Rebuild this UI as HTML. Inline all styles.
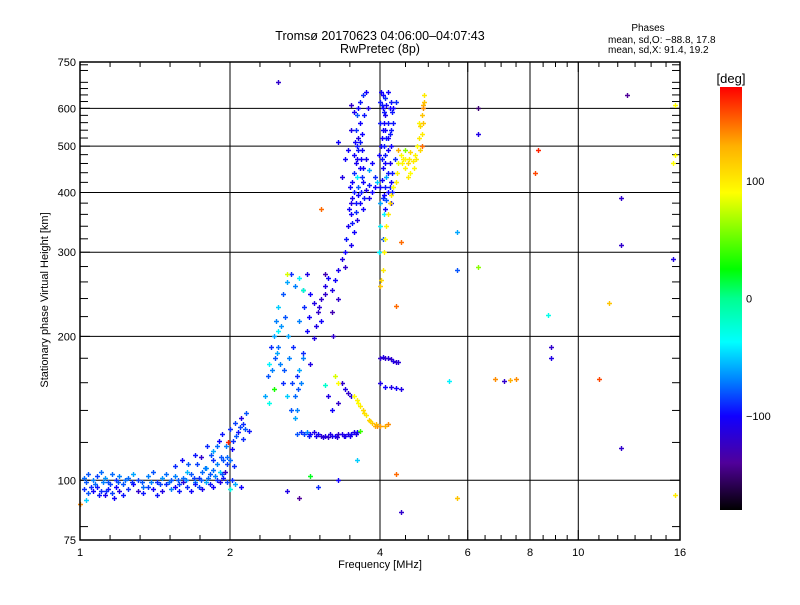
<!DOCTYPE html>
<html><head><meta charset="utf-8"><style>
body{margin:0;background:#fff;}
svg text{font-family:"Liberation Sans",sans-serif;fill:#000;}
</style></head><body>
<svg id="chart" width="800" height="600" xmlns="http://www.w3.org/2000/svg">
<rect width="800" height="600" fill="#fff"/>
<text x="380" y="40" font-size="12.5" text-anchor="middle">Tromsø 20170623 04:06:00–04:07:43</text>
<text x="380" y="53" font-size="12.5" text-anchor="middle">RwPretec (8p)</text>
<text x="648" y="31" font-size="10" text-anchor="middle">Phases</text>
<text x="608" y="43" font-size="10">mean, sd,O: −88.8, 17.8</text>
<text x="608" y="53" font-size="10">mean, sd,X:  91.4, 19.2</text>
<text x="380" y="568" font-size="11" text-anchor="middle">Frequency [MHz]</text>
<text transform="translate(48,300) rotate(-90)" font-size="11" text-anchor="middle">Stationary phase Virtual Height [km]</text>
<g id="grid"></g>
<g id="ticks"></g>
<g id="marks"></g>
<rect x="80" y="62" width="600" height="478" fill="none" stroke="#000" stroke-width="1.5"/>
<defs><linearGradient id="cmap" x1="0" y1="1" x2="0" y2="0"></linearGradient></defs>
<rect x="720" y="87" width="22" height="423" fill="url(#cmap)"/>
<text x="731" y="83" font-size="13" text-anchor="middle">[deg]</text>
<g id="cbticks"></g>
</svg>
<script>
const xTickLabels=[1,2,4,6,8,10,16];
const yTickLabels=[75,100,200,300,400,500,600,750];
const yGridValues=[100,200,300,400,500,600];
const xGridValues=[2,4,6,8,10];
const xMinorTicks=[1.149,1.32,1.516,1.741,2.297,2.639,3.03,3.48,4.5,5,5.5,6.5,7,7.5,8.5,9,9.5,11,12,13,14,15];
const cbLabels=[100,0,-100];
const cmapStops=[[-180,'#000000'],[-140,'#50009a'],[-100,'#1000ff'],[-70,'#0080ff'],[-37,'#00ffff'],[0,'#00ff90'],[25,'#00ff00'],[90,'#ffff00'],[130,'#ffb000'],[180,'#ff0000']];

const lowBand=[[1.02,101,-75],[1.04,103,-80],[1.06,100,-70],[1.08,102,-85],[1.10,104,-75],[1.12,101,-65],[1.14,99,-80],[1.16,103,-75],[1.18,100,-90],[1.20,102,-70],[1.22,98,-80],[1.25,101,-75],[1.28,103,-60],[1.31,100,-85],[1.34,97,-75],[1.37,102,-70],[1.40,104,-80],[1.43,99,-90],[1.46,101,-65],[1.49,103,-75],[1.52,100,-80],[1.55,102,-70],[1.58,98,-85],[1.61,101,-75],[1.64,104,-55],[1.67,103,-80],[1.70,99,-70],[1.73,101,-90],[1.76,104,-75],[1.79,106,-65],[1.82,103,-80],[1.85,105,-75],[1.88,108,-70],[1.91,104,-50],[1.94,110,-80],[1.97,112,-75],
[1.02,96,-90],[1.04,94,-80],[1.06,95,-100],[1.08,97,-95],[1.10,95,-90],[1.12,93,-105],[1.14,96,-95],[1.16,94,-85],[1.18,97,-100],[1.20,95,-110],[1.22,93,-95],[1.25,96,-90],[1.28,98,-100],[1.31,95,-120],[1.34,94,-95],[1.37,97,-85],[1.40,96,-100],[1.43,93,-95],[1.46,95,-110],[1.49,98,-90],[1.52,96,-70],[1.55,97,-100],[1.58,95,-95],[1.61,99,-115],[1.64,97,-90],[1.67,95,-100],[1.70,98,-95],[1.73,97,-85],[1.76,96,-105],[1.79,99,-60],[1.82,98,-95],[1.85,97,-100],[1.88,100,-90],[1.91,99,-110],[1.94,101,-95],[1.97,99,-85],[1.0,89,140],[1.03,91,-50],
[1.03,99,-80],[1.07,98,-75],[1.11,99,-70],[1.15,98,-85],[1.19,99,-80],[1.23,100,-75],[1.27,99,-90],[1.33,99,-80],[1.39,99,-70],[1.45,98,-85],[1.51,99,-75],[1.57,100,-80],[1.63,100,-70],[1.69,101,-85],[1.75,100,-80],[1.81,101,-75],[1.87,102,-70],[1.93,103,-80],[1.05,97,-90],[1.09,93,-95],[1.13,95,-90],[1.17,92,-100]];
const rise=[[1.55,107,-90],[1.6,110,-100],[1.65,108,-80],[1.7,113,-95],[1.75,112,-120],[1.8,118,-90],[1.85,115,-60],[1.9,121,-100],[1.93,125,-95],[1.96,118,-70],[2.0,128,-90],[2.02,116,-100],[2.05,132,-85],[2.08,126,-95],[2.1,135,-110],[2.12,122,-90],[2.15,138,-80],[2.18,127,-95],[2.02,100,-90],[2.05,98,-60],[2.1,97,-100],[1.95,104,-120],[1.85,110,-90],[1.78,106,-70],[2.0,96,-30],[1.98,120,170],
[1.92,112,-80],[1.88,118,-75],[1.97,108,-85],[2.03,121,-90],[2.06,124,-80],[2.09,129,-85],[2.12,131,-90],[2.14,128,-80],[2.0,110,-75],[2.04,107,-90],[1.83,113,-80],[1.72,108,-85]];
const midRise=[[2.35,150,-60],[2.38,165,-80],[2.4,175,-40],[2.42,190,-90],[2.45,200,-60],[2.47,215,-70],[2.5,230,-50],[2.55,245,-80],[2.6,260,-60],[2.65,270,-90],[2.7,255,-70],[2.75,265,-40],[2.8,250,-80],[2.85,270,-110],[2.9,245,-100],[2.95,235,-110],[3.0,225,-120],[3.05,215,-100],[2.48,185,-60],[2.52,175,-70],[2.55,160,-90],[2.6,150,-50],[2.65,140,-80],[2.7,135,-60],[2.72,165,-90],[2.8,180,-70],[2.9,175,-110],[2.5,205,-40],[2.58,220,-80],[2.62,200,-60],[2.68,190,-90],[2.75,215,-70],[2.85,205,-100],[2.95,198,-110],[3.05,240,-120],[3.1,255,-110],[3.15,265,-100],[3.1,245,-120],[2.45,155,30],[2.4,145,-30],[2.6,270,80],
[2.43,170,-70],[2.46,180,-80],[2.5,190,-75],[2.53,210,-65],[2.57,170,-80],[2.63,180,-70],[2.66,160,-85],[2.7,150,-75],[2.82,230,-90],[2.88,220,-100],[2.98,210,-110],[3.02,230,-115]];
const fBranch=[[3.2,250,-110],[3.25,262,-100],[3.3,275,-105],[3.35,290,-110],[3.4,300,-100],[3.42,320,-95],[3.45,340,-105],[3.5,360,-100],[3.5,380,-110],[3.55,400,-95],[3.52,420,-100],[3.55,440,-90],[3.58,460,-105],[3.55,480,-100],[3.6,500,-95],[3.62,520,-110],[3.58,540,-90],[3.65,560,-100],[3.6,580,-80],[3.62,600,-100],[3.65,620,-95],[3.7,640,-90],[3.75,650,-100],[3.48,410,-100],[3.62,410,-80],[3.7,420,-100],[3.75,405,-110],[3.8,415,-95],[3.85,400,-100],[3.9,430,-90],[3.7,450,-100],[3.75,470,-105],[3.8,445,-60],[3.65,380,-100],[3.72,390,-95],[3.85,460,-100],[3.6,350,-110],[3.55,330,-100],[3.4,280,-120],[3.5,310,-105],[3.3,240,-120],[3.2,225,-130],[3.22,200,-120],[3.1,270,-130],[3.35,430,-110],[3.4,470,-100],[3.45,490,-100],[3.5,540,-110],[3.55,590,-105],[3.5,610,-120],[3.3,510,-100],[3.68,530,-100],[3.72,580,-95],[3.6,430,-40],[3.66,470,-100],[3.78,600,-110],
[3.58,380,-95],[3.62,395,-100],[3.66,400,-95],[3.68,430,-90],[3.64,450,-100],[3.6,470,-105],[3.62,490,-95],[3.56,510,-100],[3.64,510,-95],[3.68,490,-100],[3.52,390,-105],[3.46,370,-100],[3.52,345,-95],[3.58,365,-90],[3.7,370,-100],[3.8,390,-105],[3.9,410,-100]];
const fColumn=[[4.0,620,-95],[4.05,640,-100],[4.1,630,-90],[4.15,650,-100],[4.2,620,-95],[4.05,600,-100],[4.1,580,-105],[4.15,560,-95],[4.05,540,-100],[4.12,520,-90],[4.2,500,-100],[4.1,480,-95],[4.18,460,-105],[4.05,450,-100],[4.12,430,-60],[4.2,420,-100],[4.1,410,-95],[4.15,400,-100],[4.05,390,-90],[4.0,380,-60],[4.2,380,-100],[4.25,560,-95],[4.25,600,-100],[4.28,470,-90],[3.95,420,-50],[3.98,480,-100],[4.0,560,-95],[4.02,500,-100],[4.08,360,-40],[4.0,340,-40],[3.98,300,-40],[4.05,320,-80],[4.1,370,-100],[4.22,440,-95],[4.15,520,-100],[4.3,620,-90],[4.02,650,-100],[4.08,590,-95],[4.18,600,-100],[4.1,540,-100],[4.2,540,-95],[4.0,410,-100],
[4.03,610,-95],[4.12,610,-100],[4.22,590,-95],[4.08,560,-100],[4.18,530,-95],[4.03,520,-100],[4.08,500,-95],[4.15,490,-100],[4.03,470,-95],[4.1,460,-100],[4.15,440,-95],[4.03,425,-100],[4.18,410,-95],[4.08,395,-100],[4.12,385,-80],[4.22,400,-95]];
const xTrace=[[4.0,255,120],[4.02,262,110],[4.05,275,100],[4.08,300,95],[4.1,320,90],[4.12,340,95],[4.15,360,100],[4.18,380,110],[4.2,395,100],[4.25,410,90],[4.3,420,100],[4.32,440,95],[4.35,460,85],[4.4,480,90],[4.45,470,100],[4.5,450,95],[4.55,460,110],[4.6,440,90],[4.65,465,100],[4.7,480,95],[4.75,500,90],[4.8,520,100],[4.82,550,110],[4.85,580,120],[4.87,610,130],[4.9,640,100],[4.35,490,130],[4.5,490,60],[4.55,430,100],[4.6,485,110],[4.78,560,95],[4.85,500,150],[4.88,600,140],[4.9,620,120],
[4.42,460,95],[4.48,470,90],[4.58,470,100],[4.68,450,95],[4.72,470,100],[4.82,490,110],[4.86,530,100],[4.88,560,120]];
const eLayer=[[2.72,125,-80],[2.78,126,-90],[2.85,126,-70],[2.9,125,-100],[2.95,126,-110],[3.0,125,-100],[3.05,124,-120],[3.1,124,-110],[3.15,123,-120],[3.2,124,-110],[3.25,124,-100],[3.3,125,-120],[3.35,125,-110],[3.4,124,-100],[3.45,125,-110],[3.5,125,-100],[3.55,126,-110],[3.6,126,-100],[3.65,127,40],[2.72,140,-70],[2.74,155,-80],[2.75,170,-60],[2.8,185,-90],[2.78,160,-70],[3.4,155,-110],[3.45,152,-120],[3.5,150,-110],[3.3,145,-120],[3.35,160,-120],[3.15,150,-110],[3.2,140,-100],
[2.82,125,-85],[2.88,124,-95],[2.98,124,-105],[3.08,123,-115],[3.18,125,-110],[3.28,123,-115],[3.38,124,-110],[3.48,124,-105],[3.58,125,-110]];
const eTrace=[[3.55,150,90],[3.6,147,95],[3.65,143,100],[3.7,140,110],[3.75,137,100],[3.8,134,115],[3.85,132,120],[3.9,130,130],[3.95,130,140],[4.0,130,135],[4.1,130,130],[4.15,131,140],[3.62,145,90],[3.72,138,105],[3.82,133,110],[3.92,131,125]];
const esLayer=[[4.0,180,-120],[4.05,181,-110],[4.1,180,-120],[4.15,180,-115],[4.2,179,-120],[4.25,178,-110],[4.3,177,-120],[4.35,177,-115],[4.0,160,-110],[4.1,157,-100],[4.2,157,-110],[4.3,156,-100],[4.4,155,-110]];
const scatter=[[2.5,680,-120],[6.3,600,-150],[6.3,530,-110],[5.7,330,-60],[5.7,275,-80],[6.3,280,60],[8.3,490,170],[8.2,440,160],[8.7,222,-30],[8.8,190,-120],[8.8,180,-110],[11,163,160],[12.5,640,-140],[12.2,390,-120],[12.2,310,-120],[11.5,235,120],[12.2,117,-120],[15.6,610,90],[15.6,480,90],[15.5,460,90],[15.5,290,-110],[15.6,93,100],[6.8,163,140],[7.3,162,130],[7.5,163,140],[7.1,161,-120],[5.7,92,120],[5.5,161,-40],[4.4,86,-120],[4.3,103,150],[4.4,315,150],[4.3,232,150],[3.05,370,150],[2.8,250,-20],[3.3,100,-100],[2.6,95,-110],[3.0,97,-90],[2.9,102,20],[2.75,92,-140],[3.6,110,-50],[3.25,165,80],[3.3,160,90],[3.1,158,-20]];
const groups=[lowBand,rise,midRise,fBranch,fColumn,xTrace,eLayer,eTrace,esLayer,scatter];

const X0=80,X1=680,Y0=540,Y1=62;
function xs(f){return X0+(X1-X0)*Math.log2(f)/4;}
function ys(h){return Y0-(Y0-Y1)*Math.log10(h/75);}
function hex(c){return [1,3,5].map(i=>parseInt(c.substr(i,2),16));}
function color(p){
  for(let i=1;i<cmapStops.length;i++){
    if(p<=cmapStops[i][0]){
      const a=cmapStops[i-1],b=cmapStops[i],t=(p-a[0])/(b[0]-a[0]);
      const ca=hex(a[1]),cb=hex(b[1]);
      return 'rgb('+ca.map((v,k)=>Math.round(v+(cb[k]-v)*t)).join(',')+')';
    }
  }
  return cmapStops[cmapStops.length-1][1];
}
const NS='http://www.w3.org/2000/svg';
function mk(tag,attrs,parent){const e=document.createElementNS(NS,tag);for(const k in attrs)e.setAttribute(k,attrs[k]);parent.appendChild(e);return e;}
const grid=document.getElementById('grid'),ticks=document.getElementById('ticks'),marks=document.getElementById('marks');
yGridValues.forEach(v=>{const l=mk('line',{x1:X0,x2:X1,y1:ys(v),y2:ys(v),stroke:'#000','stroke-width':1},grid);

});
xGridValues.forEach(v=>{const l=mk('line',{x1:xs(v),x2:xs(v),y1:Y0,y2:Y1,stroke:'#000','stroke-width':1},grid);

});
xTickLabels.forEach(v=>{const t=mk('text',{x:xs(v),y:556,'font-size':11,'text-anchor':'middle'},ticks);t.textContent=v;


mk('line',{x1:xs(v),x2:xs(v),y1:Y0,y2:Y0-10,stroke:'#000'},ticks);mk('line',{x1:xs(v),x2:xs(v),y1:Y1,y2:Y1+10,stroke:'#000'},ticks);});
xMinorTicks.forEach(v=>{mk('line',{x1:xs(v),x2:xs(v),y1:Y0,y2:Y0-5,stroke:'#000'},ticks);mk('line',{x1:xs(v),x2:xs(v),y1:Y1,y2:Y1+5,stroke:'#000'},ticks);});
yTickLabels.forEach(v=>{const t=mk('text',{x:76,y:ys(v)+4,'font-size':11,'text-anchor':'end'},ticks);t.textContent=v;


mk('line',{x1:X0,x2:X0+10,y1:ys(v),y2:ys(v),stroke:'#000'},ticks);mk('line',{x1:X1,x2:X1-10,y1:ys(v),y2:ys(v),stroke:'#000'},ticks);});
for(let h=80;h<=740;h+=20){if(h%100===0)continue;mk('line',{x1:X0,x2:X0+8,y1:ys(h),y2:ys(h),stroke:'#000'},ticks);mk('line',{x1:X1,x2:X1-8,y1:ys(h),y2:ys(h),stroke:'#000'},ticks);}
groups.forEach(g=>g.forEach(d=>{
  const x=Math.round(xs(d[0]))+0.5,y=Math.round(ys(d[1]))+0.5,c=color(d[2]);
  const p=mk('path',{d:`M${x-2.5},${y}h5M${x},${y-2.5}v5`,stroke:c,'stroke-width':1.4,fill:'none'},marks);
  
  
}));
const grad=document.getElementById('cmap');
cmapStops.forEach(s=>mk('stop',{offset:((s[0]+180)/360),'stop-color':s[1]},grad));
const cb=document.getElementById('cbticks');
cbLabels.forEach(v=>{const y=87+423*(180-v)/360;const t=mk('text',{x:746,y:y+4,'font-size':11},cb);t.textContent=v===-100?'−100':v;

});
</script>
</body></html>
